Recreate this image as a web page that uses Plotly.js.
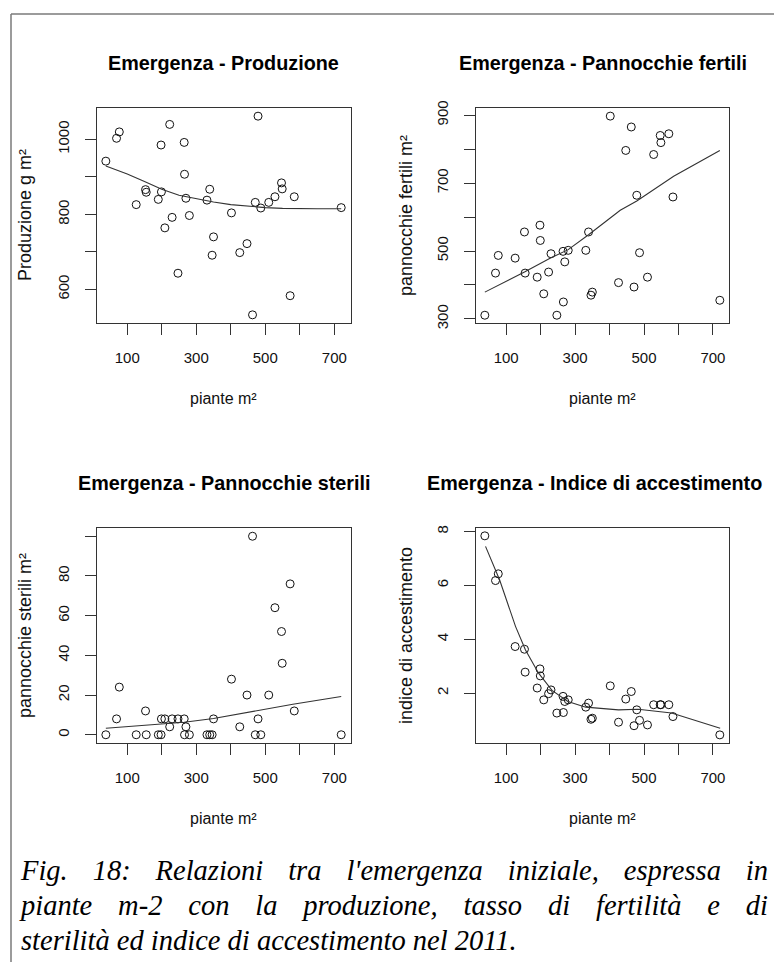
<!DOCTYPE html>
<html>
<head>
<meta charset="utf-8">
<script src="https://cdn.plot.ly/plotly-3.0.1.min.js"></script>
<style>
html, body { margin: 0; padding: 0; background: #fff; }
#chart { position: absolute; left: 0; top: 0; width: 774px; height: 962px; }
#caption { position: absolute; left: 21px; top: 853px; width: 747px;
  font-family: "Liberation Serif", "Times New Roman", serif; font-style: italic;
  font-size: 28.5px; line-height: 35px; color: #000; }
#caption .j { text-align: justify; text-align-last: justify; }
</style>
</head>
<body>
<div id="chart"></div>
<div id="caption">
  <div class="j">Fig. 18: Relazioni tra l'emergenza iniziale, espressa in</div>
  <div class="j">piante m-2 con la produzione, tasso di fertilità e di</div>
  <div>sterilità ed indice di accestimento nel 2011.</div>
</div>
<script>
// ---- data ----
const piante = [38, 69, 77, 126, 153, 155, 190, 198, 199, 209, 223, 230, 247, 265, 266, 270, 280, 331, 339, 346, 350, 402, 426, 447, 463, 471, 479, 487, 510, 528, 547, 549, 572, 584, 720];
const produzione = [942, 1003, 1020, 826, 866, 859, 840, 985, 860, 764, 1040, 792, 643, 992, 907, 843, 797, 838, 867, 691, 740, 804, 698, 722, 532, 832, 1062, 817, 832, 847, 884, 868, 583, 847, 818];
const fertili = [311, 435, 487, 479, 556, 435, 423, 576, 531, 374, 438, 492, 311, 499, 350, 468, 502, 502, 556, 370, 379, 897, 407, 796, 865, 394, 664, 495, 423, 784, 840, 819, 845, 659, 355];
const sterili = [0, 8, 24, 0, 12, 0, 0, 0, 8, 8, 4, 8, 8, 8, 0, 4, 0, 0, 0, 0, 8, 28, 4, 20, 100, 0, 8, 0, 20, 64, 52, 36, 76, 12, 0];
const accestimento = [7.84, 6.18, 6.43, 3.73, 3.63, 2.78, 2.19, 2.9, 2.64, 1.75, 1.98, 2.12, 1.26, 1.88, 1.28, 1.69, 1.75, 1.48, 1.63, 1.03, 1.07, 2.27, 0.92, 1.78, 2.06, 0.79, 1.38, 0.99, 0.82, 1.57, 1.57, 1.57, 1.57, 1.13, 0.45];

// smoothed (lowess) lines
const fitX1 = [38, 100, 150, 200, 250, 300, 350, 400, 450, 500, 550, 600, 650, 720];
const fitY1 = [929, 908, 888, 867, 851, 841, 833, 826, 821, 818, 816, 815, 815, 815];
const fitX2 = [38, 153, 230, 280, 339, 402, 431, 479, 528, 586, 720];
const fitY2 = [379, 438, 480, 504, 548, 598, 620, 647, 681, 720, 796];
const fitX3 = [38, 150, 265, 350, 450, 580, 720];
const fitY3 = [3.3, 4.9, 6.3, 8.2, 11.3, 15.4, 19.3];
const fitX4 = [40, 81, 127, 156, 194, 233, 279, 331, 426, 483, 580, 721];
const fitY4 = [7.45, 6.2, 4.48, 3.6, 2.74, 2.1, 1.69, 1.48, 1.38, 1.40, 1.26, 0.70];

// titles and tick labels (labelled ticks and unlabelled ticks)
const titles = ["Emergenza - Produzione", "Emergenza - Pannocchie fertili", "Emergenza - Pannocchie sterili", "Emergenza - Indice di accestimento"];
const xTitle = "piante m²";
const yTitles = ["Produzione g m²", "pannocchie fertili m²", "pannocchie sterili m²", "indice di accestimento"];
const xTickVals = [100, 300, 500, 700];
const xTickText = ["100", "300", "500", "700"];
const xMinorVals = [200, 400, 600];
const yTickVals1 = [600, 800, 1000];
const yTickText1 = ["600", "800", "1000"];
const yMinorVals1 = [700, 900];
const yTickVals2 = [300, 500, 700, 900];
const yTickText2 = ["300", "500", "700", "900"];
const yMinorVals2 = [400, 600, 800];
const yTickVals3 = [0, 20, 40, 60, 80];
const yTickText3 = ["0", "20", "40", "60", "80"];
const yMinorVals3 = [100];
const yTickVals4 = [2, 4, 6, 8];
const yTickText4 = ["2", "4", "6", "8"];
const yMinorVals4 = [];

// ---- layout helpers ----
const W = 774, H = 962;
const fx = p => p / W;
const fy = p => 1 - p / H;
// plot boxes in pixels: [left, right, top, bottom]
const boxes = [
  [96.7, 350.7, 108.3, 322.7],
  [475.7, 729.3, 108.3, 322.7],
  [96.7, 350.7, 528.3, 742.7],
  [475.7, 729.3, 528.3, 742.7]
];
const yRanges = [[511, 1083], [289, 920], [-4, 104], [0.16, 8.12]];
const xRange = [11.5, 747.5];
const yTicks = [
  [yTickVals1, yTickText1, yMinorVals1],
  [yTickVals2, yTickText2, yMinorVals2],
  [yTickVals3, yTickText3, yMinorVals3],
  [yTickVals4, yTickText4, yMinorVals4]
];
const ySeries = [produzione, fertili, sterili, accestimento];
const fits = [[fitX1, fitY1], [fitX2, fitY2], [fitX3, fitY3], [fitX4, fitY4]];
const titleCenters = [223.7, 602.5, 223.7, 594.7];
const titleY = [63, 63, 483, 483];
const yTitleX = [24.5, 405.5, 24.5, 405.5];

const FONT = "Liberation Sans, Arial, Helvetica, sans-serif";
const tickFont = { family: FONT, size: 15, color: "#111" };

const data = [];
const layout = {
  width: W, height: H,
  margin: { l: 0, r: 0, t: 0, b: 0, pad: 0 },
  paper_bgcolor: "#fff", plot_bgcolor: "#fff",
  showlegend: false,
  annotations: [],
  shapes: [
    { type: "line", xref: "paper", yref: "paper", x0: fx(11), x1: fx(774), y0: fy(14), y1: fy(14), line: { color: "#7a7a7a", width: 1.5 } },
    { type: "line", xref: "paper", yref: "paper", x0: fx(11), x1: fx(11), y0: fy(14), y1: fy(962), line: { color: "#7a7a7a", width: 1.5 } }
  ]
};

function minorSpec(vals) {
  return { tickmode: "array", tickvals: vals, ticks: vals.length ? "outside" : "", ticklen: 11, tickwidth: 1, tickcolor: "#333", showgrid: false };
}

for (let i = 0; i < 4; i++) {
  const n = i === 0 ? "" : String(i + 1);
  const b = boxes[i];
  const xa = "x" + n, ya = "y" + n;
  data.push({
    type: "scatter", mode: "markers", x: piante, y: ySeries[i], xaxis: xa, yaxis: ya,
    marker: { symbol: "circle-open", size: 8, color: "#111", line: { width: 1, color: "#111" } },
    hoverinfo: "skip"
  });
  data.push({
    type: "scatter", mode: "lines", x: fits[i][0], y: fits[i][1], xaxis: xa, yaxis: ya,
    line: { color: "#333", width: 1.1 }, hoverinfo: "skip"
  });
  const common = {
    showgrid: false, zeroline: false, showline: true, mirror: true,
    linecolor: "#333", linewidth: 1, ticks: "outside", ticklen: 11, tickwidth: 1,
    tickcolor: "#333", tickfont: tickFont, fixedrange: true, ticklabelstandoff: 10
  };
  layout["xaxis" + n] = Object.assign({}, common, {
    domain: [fx(b[0]), fx(b[1])], anchor: ya, range: xRange,
    tickmode: "array", tickvals: xTickVals, ticktext: xTickText,
    minor: minorSpec(xMinorVals)
  });
  layout["yaxis" + n] = Object.assign({}, common, {
    domain: [fy(b[3]), fy(b[2])], anchor: xa, range: yRanges[i],
    tickmode: "array", tickvals: yTicks[i][0], ticktext: yTicks[i][1], tickangle: -90,
    minor: minorSpec(yTicks[i][2])
  });
  // subplot title
  layout.annotations.push({
    xref: "paper", yref: "paper", x: fx(titleCenters[i]), y: fy(titleY[i]),
    xanchor: "center", yanchor: "middle", showarrow: false, text: titles[i],
    font: { family: FONT, size: 19.8, color: "#000", weight: "bold" }
  });
  // x axis title
  layout.annotations.push({
    xref: "paper", yref: "paper", x: fx((b[0] + b[1]) / 2), y: fy(b[3] + 75.6),
    xanchor: "center", yanchor: "middle", showarrow: false, text: xTitle,
    font: { family: FONT, size: 16, color: "#111" }
  });
  // y axis title
  layout.annotations.push({
    xref: "paper", yref: "paper", x: fx(yTitleX[i]), y: fy((b[2] + b[3]) / 2),
    xanchor: "center", yanchor: "middle", showarrow: false, text: yTitles[i], textangle: -90,
    font: { family: FONT, size: 18, color: "#111" }
  });
}

Plotly.newPlot("chart", data, layout, { staticPlot: true, displayModeBar: false });
</script>
</body>
</html>
